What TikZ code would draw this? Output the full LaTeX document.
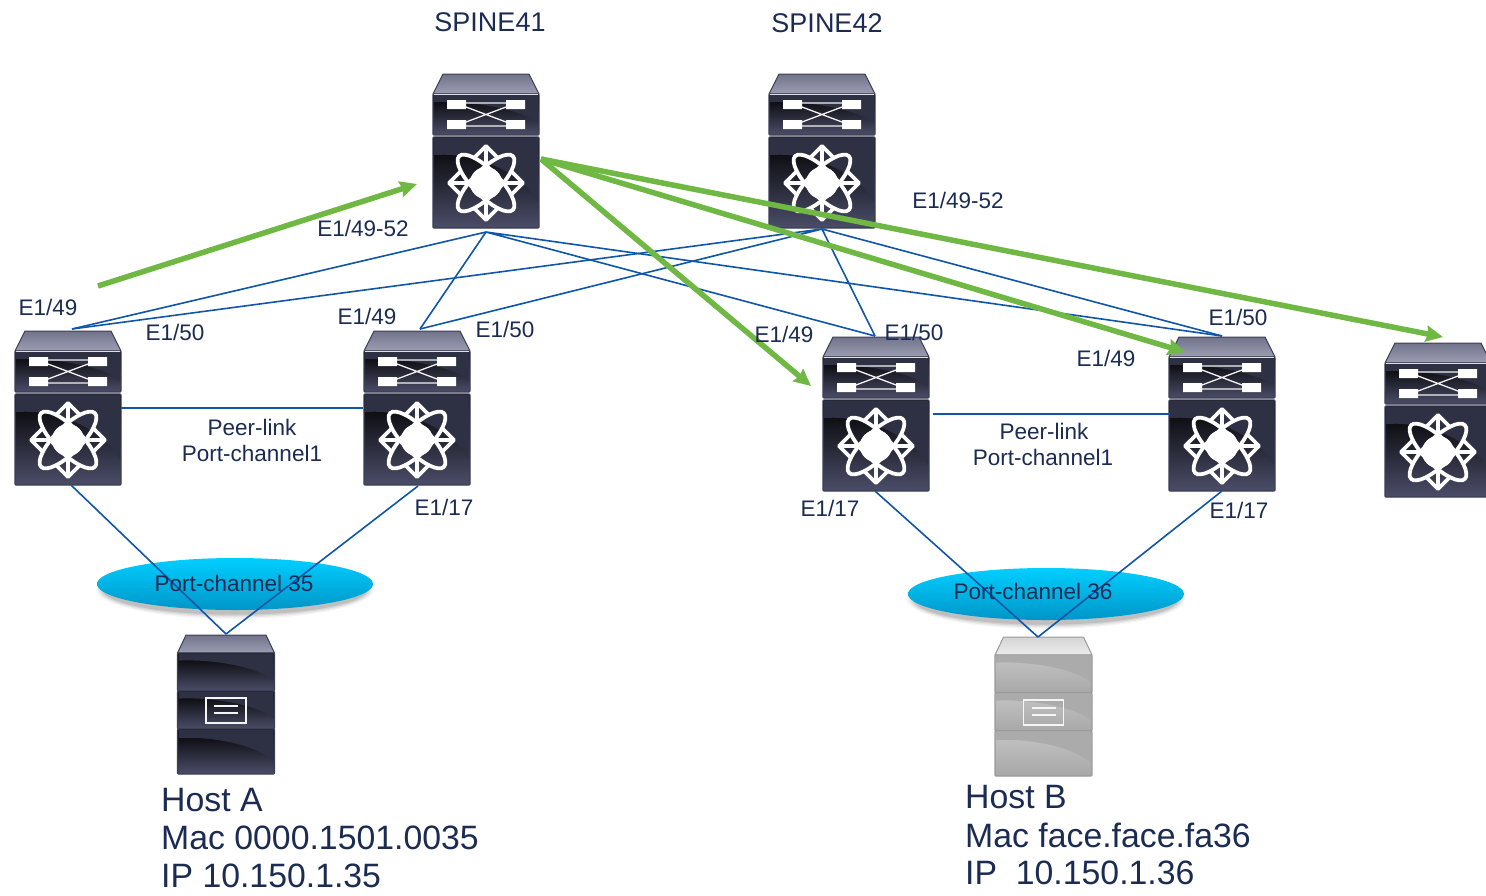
\documentclass[tikz,border=0pt]{standalone}
\usepackage{fontspec}
\setmainfont{Liberation Sans}
\usetikzlibrary{arrows.meta}
\definecolor{ink}{HTML}{1B2B52}
\definecolor{bluelink}{HTML}{0F56A8}
\definecolor{greenarrow}{HTML}{70B844}
\definecolor{panelT}{HTML}{2E3043}
\definecolor{panelB}{HTML}{4B4D68}
\definecolor{edgeD}{HTML}{3C3E54}
\definecolor{topA}{HTML}{70738A}
\definecolor{topB}{HTML}{9C9FB3}
\definecolor{gpanelT}{HTML}{ABABAB}
\definecolor{gpanelL}{HTML}{C4C4C4}
\definecolor{gpanelB}{HTML}{A8A8A8}
\definecolor{gedge}{HTML}{9A9A9A}
\definecolor{gtopA}{HTML}{D4D4D4}
\definecolor{gtopB}{HTML}{EDEDED}
\definecolor{pcT}{HTML}{00CFFF}
\definecolor{pcB}{HTML}{0095C8}
\tikzset{
  lbl/.style={text=ink,font=\fontsize{22.5}{26}\selectfont,inner sep=0pt,outer sep=0pt},
  big/.style={text=ink,font=\fontsize{27}{31}\selectfont,inner sep=0pt},
  hosttxt/.style={text=ink,font=\fontsize{33.8}{38}\selectfont,inner sep=0pt,anchor=west},
  link/.style={draw=bluelink,line width=1.6pt},
  flow/.style={draw=greenarrow,line width=5.5pt,-{Stealth[length=17pt,width=16pt,inset=2pt]}},
  devbox/.style={inner sep=0pt,outer sep=0pt,minimum width=106pt,anchor=north},
  whiteln/.style={draw=white,line width=3.8pt,line join=round},
}
% generic panel: #1 left, #2 right, #3 top, #4 bottom, #5 edge, #6 strip, #7 dark, #8 light
\newcommand{\panel}[8]{%
  \draw[#5,line width=1.2pt,top color=#7,bottom color=#8,rounded corners=1pt] (#1,#3) rectangle (#2,#4);
  \fill[#6] (#1+1,#3+1) -- (#2-1,#3+1) -- (#2-1,{#3+0.72*(#4-#3)})
     .. controls ({#2-18},{#3+0.35*(#4-#3)}) and ({#1+35},{#3+0.16*(#4-#3)}) .. (#1+1,{#3+0.2*(#4-#3)}) -- cycle;
}
% Nexus switch, origin = top centre
\newcommand{\nexus}[2]{%
\begin{scope}[shift={(#1,#2)}]
  \draw[edgeD,line width=1pt,top color=topA,bottom color=topB,line join=round]
    (-43,0) -- (43,0) -- (53,20) -- (-53,20) -- cycle;
  \panel{-53}{53}{20}{61}{edgeD}{panelT}{black}{panelB}
  \draw[white!75!gray,line width=.8pt] (-52,20.5) -- (52,20.5);
  \panel{-53}{53}{63}{154}{edgeD}{panelT}{black}{panelB}
  % swap symbol
  \fill[white] (-39,26) rectangle (-20,35) (20,26) rectangle (39,35)
               (-39,46) rectangle (-20,55) (20,46) rectangle (39,55);
  \draw[white!90!gray,line width=1.3pt] (-20,29) -- (20,29) (-20,52) -- (20,52)
     (-20,33) -- (20,48) (-20,48) -- (20,33);
  % logo
  \begin{scope}[shift={(0,109)}]
    \draw[whiteln] (0,0) ellipse [x radius=38pt,y radius=13pt,rotate=45];
    \draw[whiteln] (0,0) ellipse [x radius=38pt,y radius=13pt,rotate=-45];
    \draw[whiteln] (0,-37) -- (0,37) (-37,0) -- (37,0);
    \draw[whiteln] (-12,-25) -- (0,-37) -- (12,-25)
                   (-12,25) -- (0,37) -- (12,25)
                   (-25,-12) -- (-37,0) -- (-25,12)
                   (25,-12) -- (37,0) -- (25,12);
    \fill[white] (0,0) circle [radius=16pt];
  \end{scope}
\end{scope}}
% Host, origin = top centre
\newcommand{\hostbox}[8]{%
\begin{scope}[shift={(#1,#2)}]
  \draw[#3,line width=1pt,top color=#4,bottom color=#5,line join=round]
    (-40,0) -- (40,0) -- (48.5,18) -- (-48.5,18) -- cycle;
  \panel{-48.5}{48.5}{18}{56}{#3}{#6}{#7}{#8}
  \panel{-48.5}{48.5}{56}{94}{#3}{#6}{#7}{#8}
  \panel{-48.5}{48.5}{94}{139}{#3}{#6}{#7}{#8}
  \draw[white!92!gray,line width=1.6pt] (-20,63) rectangle (20,88);
  \draw[white!92!gray,line width=1.6pt] (-12,71) -- (12,71) (-12,78) -- (12,78);
\end{scope}}
\begin{document}
\begin{tikzpicture}[x=1pt,y=-1pt]
\useasboundingbox (0,0) rectangle (1486,895);
\clip (0,0) rectangle (1486,895);
% Port-channel ellipses
\foreach \cx/\cy in {235/584,1046/594}{
  \foreach \k/\op in {7/.04,5/.06,3/.08,1/.10}
    \fill[black,opacity=\op] (\cx,\cy+5) ellipse [x radius=132pt+\k pt,y radius=25pt+\k pt*.7];
  \shade[top color=pcT,bottom color=pcB] (\cx,\cy) ellipse [x radius=138pt,y radius=26pt];
}
% device boxes (named anchors for connectors)
\node[devbox,minimum height=154pt] (s41) at (486,74) {};
\node[devbox,minimum height=154pt] (s42) at (822,74) {};
\node[devbox,minimum height=154pt] (l1) at (68,331) {};
\node[devbox,minimum height=154pt] (l2) at (417,331) {};
\node[devbox,minimum height=154pt] (l3) at (876,337) {};
\node[devbox,minimum height=154pt] (l4) at (1222,337) {};
\node[devbox,minimum height=154pt] (l5) at (1438,343) {};
\node[devbox,minimum width=97pt,minimum height=139pt] (ha) at (226,635) {};
\node[devbox,minimum width=97pt,minimum height=141pt] (hb) at (1043,637) {};
\coordinate (s41b) at (486,232);
\coordinate (s42b) at (822,229);
\coordinate (l1t) at (72,329);
\coordinate (l2t) at (420,329);
\coordinate (l3t) at (875,336);
\coordinate (l4t) at (1222,336);
\coordinate (l1p) at (121,408);
\coordinate (l2p) at (363,408);
\coordinate (l3p) at (933,414);
\coordinate (l4p) at (1170,414);
\coordinate (hat) at (226,634);
\coordinate (hbt) at (1038,637);
\coordinate (l1b) at (71,485);
\coordinate (l2b) at (418,486);
\coordinate (l3b) at (875,491);
\coordinate (l4b) at (1222,491);
% icons
\nexus{486}{74}\nexus{822}{74}\nexus{68}{331}\nexus{417}{331}\nexus{876}{337}\nexus{1222}{337}\nexus{1438}{343}
\hostbox{226}{635}{edgeD}{topA}{topB}{panelT}{black}{panelB}
\hostbox{1043.5}{637}{gedge}{gtopA}{gtopB}{gpanelT}{gpanelL}{gpanelB}
% blue links
\draw[link] (s41b) -- (l1t) (s41b) -- (l2t) (s41b) -- (l3t) (s41b) -- (l4t);
\draw[link] (s42b) -- (l1t) (s42b) -- (l2t) (s42b) -- (l3t) (s42b) -- (l4t);
\draw[link] (l1p) -- (l2p) (l3p) -- (l4p);
\draw[link] (l1b) -- (hat) (l2b) -- (hat) (l3b) -- (hbt) (l4b) -- (hbt);
% green flows
\coordinate (gs) at (98,286);
\coordinate (ge) at (417,184);
\coordinate (g1) at (541,159);
\coordinate (g2) at (811,386);
\coordinate (g3) at (1185,352);
\coordinate (g4) at (1443,337);
\draw[flow] (gs) -- (ge);
\draw[flow] (g1) -- (g2);
\draw[flow] (g1) -- (g3);
\draw[flow] (g1) -- (g4);
% labels
\node[big] (t1) at (490,22) {SPINE41};
\node[big] (t2) at (827,23) {SPINE42};
\node[lbl] (a1) at (363,228.5) {E1/49-52};
\node[lbl] (a2) at (958,200) {E1/49-52};
\node[lbl] (a3) at (48,307.5) {E1/49};
\node[lbl] (a4) at (175,332.5) {E1/50};
\node[lbl] (a5) at (367,316.5) {E1/49};
\node[lbl] (a6) at (505,329.5) {E1/50};
\node[lbl] (a7) at (784,334.5) {E1/49};
\node[lbl] (a8) at (914,332.5) {E1/50};
\node[lbl] (a9) at (1238,317.5) {E1/50};
\node[lbl] (a10) at (1106,358.5) {E1/49};
\node[lbl] (p1) at (252,427) {Peer-link};
\node[lbl] (p2) at (252,453) {Port-channel1};
\node[lbl] (p3) at (1044,431) {Peer-link};
\node[lbl] (p4) at (1043,457) {Port-channel1};
\node[lbl] (e1) at (444,507) {E1/17};
\node[lbl] (e2) at (830,508) {E1/17};
\node[lbl] (e3) at (1239,510) {E1/17};
\node[lbl] (pc1) at (234,583) {Port-channel 35};
\node[lbl] (pc2) at (1033,591) {Port-channel 36};
\node[hosttxt] (h1) at (161,800) {Host A};
\node[hosttxt] (h2) at (161,838) {Mac 0000.1501.0035};
\node[hosttxt] (h3) at (161,876) {IP 10.150.1.35};
\node[hosttxt] (h4) at (965,797) {Host B};
\node[hosttxt] (h5) at (965,835) {Mac face.face.fa36};
\node[hosttxt] (h6) at (965,873) {IP\ \ 10.150.1.36};
\end{tikzpicture}
\end{document}
